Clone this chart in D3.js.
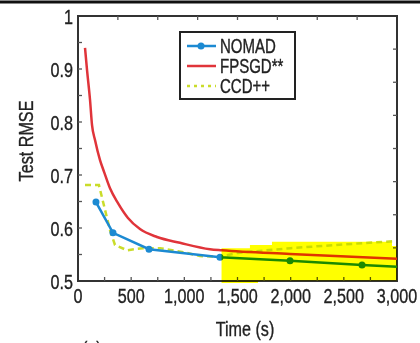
<!DOCTYPE html>
<html>
<head>
<meta charset="utf-8">
<script src="https://cdn.jsdelivr.net/npm/d3@7"></script>
<style>
  body { margin: 0; background: #fff; }
  text { font-family: "Liberation Sans", Arial, sans-serif; fill: #222; stroke: #222; stroke-width: 0.35; }
</style>
</head>
<body>
<div id="chart"></div>
<script>
// series: [time (s), test RMSE]
const nomad = [[169, 0.649], [329, 0.591], [668, 0.560], [1335, 0.545], [1994, 0.538], [2671, 0.530], [3000, 0.527]]
const fpsgd = [[66, 0.940], [85, 0.898], [113, 0.842], [132, 0.794], [160, 0.766], [207, 0.728], [245, 0.706],
  [301, 0.675], [376, 0.647], [470, 0.619], [583, 0.598], [743, 0.583], [959, 0.572], [1241, 0.560],
  [1354, 0.558], [1994, 0.551], [3000, 0.542]]
const ccd = [[66, 0.681], [197, 0.681], [301, 0.596], [348, 0.568], [461, 0.558], [611, 0.562], [771, 0.562],
  [1025, 0.553], [1147, 0.547], [1335, 0.546], [1500, 0.553], [2000, 0.562], [2500, 0.569], [2960, 0.575]]
const seriesNames = ["NOMAD", "FPSGD**", "CCD++"]
const xTickLabels = [0, 500, 1000, 1500, 2000, 2500, 3000]
const yTickLabels = [0.5, 0.6, 0.7, 0.8, 0.9, 1]
// yellow highlighter mark on the scan, in data units
const highlight = [[1350, 0.496], [1350, 0.562], [1617, 0.562], [1617, 0.568], [1824, 0.568], [1824, 0.574],
  [2953, 0.574], [2953, 0.566], [3000, 0.566], [3000, 0.5], [1693, 0.5], [1693, 0.496]]

const width = 420, height = 343
const mLeft = 78, mRight = 397, mTop = 16, mBottom = 281
const narrow = 0.77   // squeeze Liberation Sans to look like the condensed face

const svg = d3.select("#chart").append("svg")
  .attr("width", width)
  .attr("height", height)

const label = (tx, ty, str, anchor = "start", rot = false, size = 21) =>
  svg.append("text")
    .attr("transform", `translate(${tx},${ty})${rot ? " rotate(-90)" : ""} scale(${narrow},1)`)
    .attr("text-anchor", anchor)
    .attr("font-size", size)
    .text(str)

// black rule along the top of the scan
svg.append("rect").attr("x", 0).attr("y", 0.5).attr("width", width).attr("height", 3).attr("fill", "#111")

const x = d3.scaleLinear().domain([0, 3000]).range([mLeft, mRight])
const y = d3.scaleLinear().domain([0.5, 1]).range([mBottom, mTop])

// frame
svg.append("rect")
  .attr("x", mLeft).attr("y", mTop)
  .attr("width", mRight - mLeft).attr("height", mBottom - mTop)
  .attr("fill", "none").attr("stroke", "#333").attr("stroke-width", 2)

// inner ticks
const tickLen = 4
const tickG = svg.append("g").attr("stroke", "#555").attr("stroke-width", 1.3)
d3.range(250, 3000, 250).forEach(v => {
  tickG.append("line").attr("x1", x(v)).attr("x2", x(v)).attr("y1", mBottom).attr("y2", mBottom - tickLen)
})
d3.range(375, 3000, 375).forEach(v => {
  tickG.append("line").attr("x1", x(v)).attr("x2", x(v)).attr("y1", mTop).attr("y2", mTop + tickLen)
})
d3.range(0.55, 1, 0.05).forEach(v => {
  tickG.append("line").attr("x1", mLeft).attr("x2", mLeft + tickLen).attr("y1", y(v)).attr("y2", y(v))
})
d3.range(0.5625, 0.99, 0.0625).forEach(v => {
  tickG.append("line").attr("x1", mRight).attr("x2", mRight - tickLen).attr("y1", y(v)).attr("y2", y(v))
})

// tick labels
xTickLabels.forEach(d => label(x(d), 303, d3.format(",")(d), "middle"))
yTickLabels.forEach(d => label(mLeft - 5, y(d) + 7.5, d === 1 ? "1" : d.toFixed(1), "end"))

label(33, 141, "Test RMSE", "middle", true)
label(245, 336, "Time (s)", "middle")
label(82, 356, "(a)")

// lines
const line = d3.line().x(d => x(d[0])).y(d => y(d[1]))
const colors = ["#1c8ad2", "#e0343a", "#cadc2a"]

svg.append("path").datum(ccd)
  .attr("d", line).attr("fill", "none")
  .attr("stroke", colors[2]).attr("stroke-width", 2.5).attr("stroke-dasharray", "6,4")

svg.append("path").datum(fpsgd)
  .attr("d", d3.line().curve(d3.curveMonotoneX).x(d => x(d[0])).y(d => y(d[1])))
  .attr("fill", "none").attr("stroke", colors[1]).attr("stroke-width", 2.5)

svg.append("path").datum(nomad)
  .attr("d", line).attr("fill", "none")
  .attr("stroke", colors[0]).attr("stroke-width", 2.5)

svg.selectAll(".pt").data(nomad.slice(0, -1)).enter().append("circle")
  .attr("cx", d => x(d[0])).attr("cy", d => y(d[1]))
  .attr("r", 3.5).attr("fill", colors[0])

// legend
svg.append("rect").attr("x", 180).attr("y", 32).attr("width", 115).attr("height", 67)
  .attr("fill", "#fff").attr("stroke", "#222").attr("stroke-width", 2)
seriesNames.forEach((name, i) => {
  const ly = 46 + i * 20
  const l = svg.append("line").attr("x1", 187).attr("x2", 216).attr("y1", ly).attr("y2", ly)
    .attr("stroke", colors[i]).attr("stroke-width", 2.5)
  if (i == 2) l.attr("stroke-dasharray", "3,4")
  if (i == 0) svg.append("circle").attr("cx", 201).attr("cy", ly).attr("r", 3.5).attr("fill", colors[0])
  label(220, ly + 7, name, "start", false, 19.5)
})

// highlighter on top, multiplied so the lines show through
svg.append("path").datum(highlight)
  .attr("d", d3.line().x(d => x(d[0])).y(d => y(d[1])))
  .attr("fill", "#ffff00")
  .style("mix-blend-mode", "multiply")
</script>
</body>
</html>
